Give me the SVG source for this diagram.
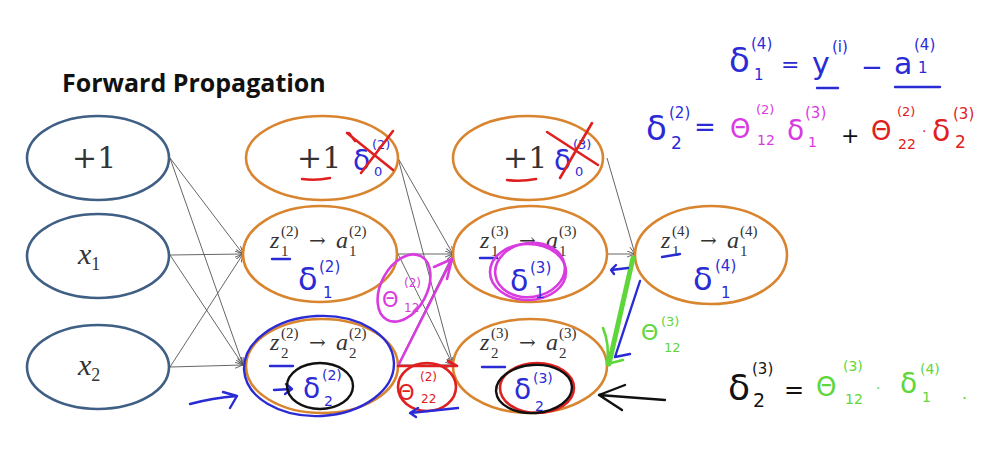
<svg xmlns="http://www.w3.org/2000/svg" width="984" height="457" viewBox="0 0 984 457">
<style>
.bg{fill:#fff}
.in{fill:none;stroke:#3f5f85;stroke-width:2.6}
.hid{fill:none;stroke:#d9842f;stroke-width:2.6}
.edge{fill:none;stroke:#555;stroke-width:0.9;marker-end:url(#ah)}
.title{font-family:"Open Sans","Liberation Sans",sans-serif;font-weight:bold;font-size:25px;fill:#111}
.m{font-family:"Liberation Serif","DejaVu Serif",serif;fill:#333}
.d{font-family:"DejaVu Serif","Liberation Serif",serif;fill:#333}
.mi{font-family:"Liberation Serif","DejaVu Serif",serif;font-style:italic;fill:#333}
.hw{font-family:"DejaVu Sans","Liberation Sans",sans-serif}
.hb{fill:#2b2bd6}.hm{fill:#d83be0}.hr{fill:#e02020}.hg{fill:#5fd63a}.hk{fill:#111}
.sb{fill:none;stroke:#2b2bd6;stroke-width:2.4;stroke-linecap:round;stroke-linejoin:round}
.sm{fill:none;stroke:#d83be0;stroke-width:2.6;stroke-linecap:round;stroke-linejoin:round}
.sr{fill:none;stroke:#e02020;stroke-width:2.6;stroke-linecap:round;stroke-linejoin:round}
.sg{fill:none;stroke:#5fd63a;stroke-width:2.6;stroke-linecap:round;stroke-linejoin:round}
.sk{fill:none;stroke:#111;stroke-width:2.4;stroke-linecap:round;stroke-linejoin:round}
</style>
<defs>
<marker id="ah" markerWidth="10" markerHeight="8" refX="8" refY="3" orient="auto" markerUnits="userSpaceOnUse">
<path d="M0,0 L8,3 L0,6" fill="none" stroke="#555" stroke-width="0.9"/>
</marker>
</defs>
<rect class="bg" width="984" height="457"/>
<text class="title" x="62" y="92">Forward Propagation</text>

<g id="connectors">
<line class="edge" x1="170" y1="158" x2="243" y2="254"/>
<line class="edge" x1="170" y1="158" x2="243" y2="365"/>
<line class="edge" x1="170" y1="255" x2="243" y2="254"/>
<line class="edge" x1="170" y1="255" x2="243" y2="365"/>
<line class="edge" x1="170" y1="367" x2="243" y2="254"/>
<line class="edge" x1="170" y1="367" x2="243" y2="365"/>
<line class="edge" x1="398" y1="158" x2="453" y2="254"/>
<line class="edge" x1="398" y1="158" x2="453" y2="365"/>
<line class="edge" x1="398" y1="254" x2="453" y2="254"/>
<line class="edge" x1="398" y1="254" x2="453" y2="365"/>
<line class="edge" x1="398" y1="365" x2="453" y2="254"/>
<line class="edge" x1="398" y1="365" x2="453" y2="365"/>
<line class="edge" x1="607" y1="158" x2="635" y2="254"/>
<line class="edge" x1="607" y1="254" x2="635" y2="254"/>
<line class="edge" x1="607" y1="365" x2="635" y2="254"/>
</g>

<g id="in-bias">
<ellipse class="in" cx="98" cy="158" rx="71" ry="42"/>
<text class="d" x="72" y="168" font-size="30">+1</text>
</g>
<g id="in-x1">
<ellipse class="in" cx="98" cy="256" rx="71" ry="42"/>
<text class="mi" x="78" y="264" font-size="30">x<tspan font-size="18" dy="6" font-style="normal">1</tspan></text>
</g>
<g id="in-x2">
<ellipse class="in" cx="98" cy="367" rx="71" ry="42"/>
<text class="mi" x="78" y="375" font-size="30">x<tspan font-size="18" dy="6" font-style="normal">2</tspan></text>
</g>

<g id="l2-bias">
<ellipse class="hid" cx="322" cy="158" rx="76" ry="42"/>
<text class="d" x="297" y="168" font-size="30">+1</text>
<path class="sr" d="M302,179 Q316,181 330,178"/>
<text class="hw hb" x="353" y="170" font-size="28">δ</text>
<text class="hw hb" x="372" y="149" font-size="13">(2)</text>
<text class="hw hb" x="374" y="176" font-size="13">0</text>
<path class="sr" d="M347,133 L393,170 M393,131 L361,173 M349,133 l6,8"/>
</g>
<g id="l2-n1">
<ellipse class="hid" cx="320" cy="254" rx="77" ry="48"/>
<text class="mi" x="270" y="248" font-size="24">z</text><text class="m" x="281" y="256" font-size="15">1</text><text class="m" x="281" y="236" font-size="15">(2)</text>
<text class="d" x="309" y="247" font-size="20">→</text>
<text class="mi" x="336" y="248" font-size="24">a</text><text class="m" x="349" y="256" font-size="15">1</text><text class="m" x="349" y="236" font-size="15">(2)</text>
<path class="sb" d="M272,259 L290,259"/>
<text class="hw hb" x="298" y="290" font-size="32">δ</text>
<text class="hw hb" x="319" y="272" font-size="15">(2)</text>
<text class="hw hb" x="323" y="298" font-size="15">1</text>
</g>
<g id="l2-n2">
<ellipse class="hid" cx="322" cy="366" rx="76" ry="47"/>
<ellipse class="sb" cx="319" cy="366" rx="75" ry="50" transform="rotate(-3 319 366)"/>
<text class="mi" x="270" y="350" font-size="24">z</text><text class="m" x="281" y="358" font-size="15">2</text><text class="m" x="281" y="338" font-size="15">(2)</text>
<text class="d" x="309" y="349" font-size="20">→</text>
<text class="mi" x="336" y="350" font-size="24">a</text><text class="m" x="349" y="358" font-size="15">2</text><text class="m" x="349" y="338" font-size="15">(2)</text>
<path class="sb" d="M270,366 L293,366"/>
<path class="sb" d="M274,390 L291,389 M286,384 L292,389 L285,394"/>
<ellipse class="sk" cx="320" cy="386" rx="33" ry="23"/>
<text class="hw hb" x="303" y="398" font-size="28">δ</text>
<text class="hw hb" x="322" y="380" font-size="14">(2)</text>
<text class="hw hb" x="324" y="406" font-size="14">2</text>
</g>

<g id="l3-bias">
<ellipse class="hid" cx="528" cy="158" rx="75" ry="42"/>
<text class="d" x="503" y="168" font-size="30">+1</text>
<path class="sr" d="M507,180 Q521,182 536,179"/>
<text class="hw hb" x="554" y="170" font-size="28">δ</text>
<text class="hw hb" x="573" y="149" font-size="13">(3)</text>
<text class="hw hb" x="575" y="176" font-size="13">0</text>
<path class="sr" d="M547,132 L598,165 M592,123 L560,178"/>
</g>
<g id="l3-n1">
<ellipse class="hid" cx="530" cy="254" rx="77" ry="48"/>
<text class="mi" x="480" y="248" font-size="24">z</text><text class="m" x="491" y="256" font-size="15">1</text><text class="m" x="491" y="236" font-size="15">(3)</text>
<text class="d" x="519" y="247" font-size="20">→</text>
<text class="mi" x="546" y="248" font-size="24">a</text><text class="m" x="559" y="256" font-size="15">1</text><text class="m" x="559" y="236" font-size="15">(3)</text>
<path class="sb" d="M480,258 L497,258"/>
<ellipse class="sm" cx="528" cy="272" rx="38" ry="28"/>
<ellipse class="sm" cx="530" cy="270" rx="35" ry="27" transform="rotate(-8 530 270)"/>
<text class="hw hb" x="510" y="291" font-size="30">δ</text>
<text class="hw hb" x="530" y="273" font-size="15">(3)</text>
<text class="hw hb" x="535" y="298" font-size="15">1</text>
</g>
<g id="l3-n2">
<ellipse class="hid" cx="530" cy="366" rx="77" ry="47"/>
<text class="mi" x="480" y="350" font-size="24">z</text><text class="m" x="491" y="358" font-size="15">2</text><text class="m" x="491" y="338" font-size="15">(3)</text>
<text class="d" x="519" y="349" font-size="20">→</text>
<text class="mi" x="546" y="350" font-size="24">a</text><text class="m" x="559" y="358" font-size="15">2</text><text class="m" x="559" y="338" font-size="15">(3)</text>
<path class="sb" d="M482,367 L505,367"/>
<ellipse class="sr" cx="537" cy="388" rx="37" ry="25"/>
<ellipse class="sk" cx="534" cy="389" rx="38" ry="24" transform="rotate(-4 534 389)"/>
<text class="hw hb" x="514" y="399" font-size="28">δ</text>
<text class="hw hb" x="533" y="383" font-size="14">(3)</text>
<text class="hw hb" x="535" y="411" font-size="14">2</text>
</g>

<g id="l4-n1">
<ellipse class="hid" cx="711" cy="255" rx="76" ry="49"/>
<text class="mi" x="661" y="248" font-size="24">z</text><text class="m" x="672" y="256" font-size="15">1</text><text class="m" x="672" y="236" font-size="15">(4)</text>
<text class="d" x="700" y="247" font-size="20">→</text>
<text class="mi" x="727" y="248" font-size="24">a</text><text class="m" x="740" y="256" font-size="15">1</text><text class="m" x="740" y="236" font-size="15">(4)</text>
<path class="sb" d="M662,257 L680,254"/>
<text class="hw hb" x="693" y="290" font-size="32">δ</text>
<text class="hw hb" x="715" y="271" font-size="15">(4)</text>
<text class="hw hb" x="721" y="298" font-size="15">1</text>
</g>

<g id="ann-magenta">
<path class="sm" d="M398,366 L452,259 M434,267 L452,259 L447,279"/>
<ellipse class="sm" cx="404" cy="288" rx="36" ry="23" transform="rotate(-62 404 288)"/>
<text class="hw hm" x="382" y="307" font-size="21">Θ</text>
<text class="hw hm" x="404" y="287" font-size="12">(2)</text>
<text class="hw hm" x="404" y="312" font-size="12">12</text>
</g>
<g id="ann-red">
<path class="sr" d="M398,366 L457,366 M448,361 L457,366"/>
<ellipse class="sr" cx="427" cy="387" rx="29" ry="24"/>
<text class="hw hr" x="398" y="400" font-size="21">Θ</text>
<text class="hw hr" x="420" y="381" font-size="12">(2)</text>
<text class="hw hr" x="421" y="403" font-size="12">22</text>
<path class="sb" d="M458,408 L410,413 M418,408 L410,413 L416,417"/>
</g>
<g id="ann-green">
<path d="M633,258 L609,364" fill="none" stroke="#5fd63a" stroke-width="5" stroke-linecap="round"/>
<path class="sg" d="M603,328 Q610,345 607,364 L623,360"/>
<path class="sb" d="M640,281 L615,357 L630,354"/>
<path class="sb" d="M628,268 L611,270 M616,265 L611,270 L614,274"/>
<text class="hw hg" x="641" y="340" font-size="22">Θ</text>
<text class="hw hg" x="661" y="326" font-size="13">(3)</text>
<text class="hw hg" x="664" y="352" font-size="13">12</text>
</g>
<g id="ann-black-arrow">
<path class="sk" d="M665,400 L599,395 M625,385 L599,395 L622,410"/>
</g>
<g id="ann-blue-arrow">
<path class="sb" d="M190,404 Q212,398 237,396 M223,392 L237,396 L230,408"/>
</g>

<g id="eq1">
<text class="hw hb" x="729" y="72" font-size="34">δ</text>
<text class="hw hb" x="751" y="49" font-size="15">(4)</text>
<text class="hw hb" x="754" y="80" font-size="15">1</text>
<text class="hw hb" x="781" y="72" font-size="22">=</text>
<text class="hw hb" x="812" y="74" font-size="30">y</text>
<text class="hw hb" x="832" y="52" font-size="15">(i)</text>
<path class="sb" d="M817,88 L838,88"/>
<text class="hw hb" x="861" y="76" font-size="26">−</text>
<text class="hw hb" x="894" y="74" font-size="30">a</text>
<text class="hw hb" x="914" y="50" font-size="15">(4)</text>
<text class="hw hb" x="918" y="73" font-size="15">1</text>
<path class="sb" d="M895,87 L940,87"/>
</g>
<g id="eq2">
<text class="hw hb" x="646" y="140" font-size="34">δ</text>
<text class="hw hb" x="669" y="118" font-size="15">(2)</text>
<text class="hw hb" x="671" y="149" font-size="17">2</text>
<text class="hw hb" x="694" y="136" font-size="26">=</text>
<text class="hw hm" x="730" y="138" font-size="26">Θ</text>
<text class="hw hm" x="756" y="114" font-size="13">(2)</text>
<text class="hw hm" x="757" y="145" font-size="14">12</text>
<text class="hw hm" x="787" y="140" font-size="28">δ</text>
<text class="hw hm" x="805" y="118" font-size="15">(3)</text>
<text class="hw hm" x="808" y="147" font-size="14">1</text>
<text class="hw hk" x="841" y="143" font-size="22">+</text>
<text class="hw hr" x="871" y="140" font-size="26">Θ</text>
<text class="hw hr" x="897" y="116" font-size="13">(2)</text>
<text class="hw hr" x="898" y="149" font-size="14">22</text>
<text class="hw hr" x="922" y="136" font-size="14">·</text>
<text class="hw hr" x="932" y="141" font-size="30">δ</text>
<text class="hw hr" x="953" y="119" font-size="15">(3)</text>
<text class="hw hr" x="955" y="148" font-size="17">2</text>
</g>
<g id="eq3">
<text class="hw hk" x="728" y="400" font-size="36">δ</text>
<text class="hw hk" x="752" y="374" font-size="15">(3)</text>
<text class="hw hk" x="753" y="407" font-size="19">2</text>
<text class="hw hk" x="784" y="398" font-size="24">=</text>
<text class="hw hg" x="816" y="396" font-size="26">Θ</text>
<text class="hw hg" x="843" y="371" font-size="14">(3)</text>
<text class="hw hg" x="845" y="404" font-size="14">12</text>
<text class="hw hg" x="876" y="393" font-size="14">·</text>
<text class="hw hg" x="900" y="393" font-size="28">δ</text>
<text class="hw hg" x="920" y="374" font-size="14">(4)</text>
<text class="hw hg" x="922" y="402" font-size="14">1</text>
<text class="hw hg" x="962" y="399" font-size="16">.</text>
</g>
</svg>
